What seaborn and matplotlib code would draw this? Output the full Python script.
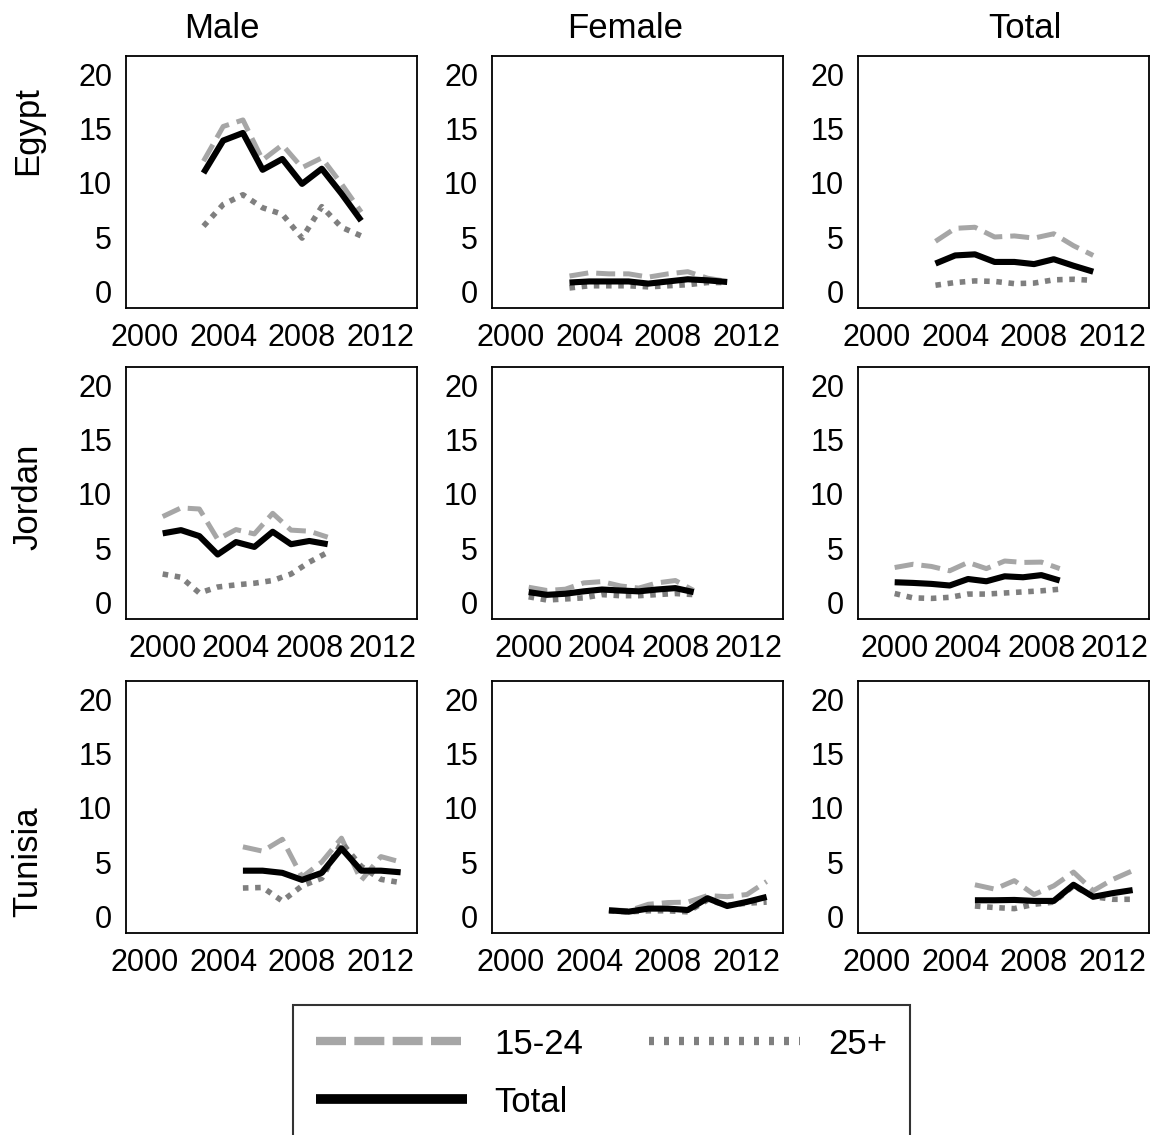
import numpy as np
import pandas as pd
import matplotlib
matplotlib.use("Agg")
import matplotlib.pyplot as plt
from matplotlib.lines import Line2D
import seaborn as sns

# ---- data: unemployment-type rates by country, sex and age group ----
egypt_years = [2003, 2004, 2005, 2006, 2007, 2008, 2009, 2010, 2011]
jordan_years = [2000, 2001, 2002, 2003, 2004, 2005, 2006, 2007, 2008, 2009]
tunisia_years = [2005, 2006, 2007, 2008, 2009, 2010, 2011, 2012, 2013]

egypt_male_1524 = [12.0, 15.2, 15.8, 12.1, 13.5, 11.4, 12.3, 9.9, 7.3]
egypt_male_25p = [6.0, 8.0, 8.9, 7.7, 7.1, 4.9, 7.8, 5.9, 5.1]
egypt_male_total = [10.9, 13.9, 14.6, 11.2, 12.2, 9.9, 11.3, 9.0, 6.5]

egypt_female_1524 = [1.4, 1.7, 1.6, 1.6, 1.3, 1.6, 1.8, 1.2, 0.9]
egypt_female_25p = [0.3, 0.5, 0.5, 0.5, 0.4, 0.5, 0.6, 0.8, 0.8]
egypt_female_total = [0.8, 0.9, 0.9, 0.9, 0.7, 0.9, 1.1, 1.0, 0.85]

egypt_total_1524 = [4.6, 5.8, 5.9, 5.0, 5.1, 4.9, 5.3, 4.2, 3.3]
egypt_total_25p = [0.55, 0.8, 0.95, 0.9, 0.7, 0.75, 1.05, 1.1, 1.0]
egypt_total_total = [2.55, 3.3, 3.4, 2.7, 2.7, 2.5, 2.95, 2.35, 1.8]

jordan_male_1524 = [7.9, 8.7, 8.6, 5.8, 6.7, 6.3, 8.2, 6.65, 6.55, 6.0]
jordan_male_25p = [2.6, 2.3, 0.85, 1.4, 1.6, 1.75, 2.0, 2.6, 3.7, 4.6]
jordan_male_total = [6.35, 6.65, 6.1, 4.4, 5.55, 5.1, 6.5, 5.35, 5.65, 5.35]

jordan_female_1524 = [1.38, 1.08, 1.2, 1.78, 1.9, 1.5, 1.3, 1.78, 2.0, 1.08]
jordan_female_25p = [0.5, 0.2, 0.3, 0.4, 0.7, 0.6, 0.6, 0.7, 0.8, 0.7]
jordan_female_total = [0.93, 0.68, 0.78, 1.0, 1.17, 1.08, 1.0, 1.17, 1.3, 0.93]

jordan_total_1524 = [3.2, 3.5, 3.3, 2.9, 3.67, 3.1, 3.8, 3.67, 3.7, 3.1]
jordan_total_25p = [0.8, 0.4, 0.35, 0.45, 0.75, 0.75, 0.85, 0.95, 1.05, 1.2]
jordan_total_total = [1.84, 1.78, 1.69, 1.54, 2.14, 1.93, 2.39, 2.3, 2.5, 2.0]

tunisia_male_1524 = [6.4, 6.0, 7.1, 3.6, 5.0, 7.2, 3.3, 5.5, 5.0]
tunisia_male_25p = [2.6, 2.65, 1.4, 2.8, 3.5, 6.8, 4.6, 3.4, 3.1]
tunisia_male_total = [4.2, 4.2, 4.0, 3.35, 4.0, 6.25, 4.2, 4.2, 4.05]

tunisia_female_1524 = [0.6, 0.5, 1.1, 1.26, 1.3, 1.9, 1.8, 2.0, 3.2]
tunisia_female_25p = [0.5, 0.4, 0.5, 0.5, 0.4, 1.5, 1.0, 1.2, 1.3]
tunisia_female_total = [0.54, 0.42, 0.7, 0.7, 0.57, 1.66, 0.94, 1.32, 1.78]

tunisia_total_1524 = [2.9, 2.5, 3.28, 2.0, 2.8, 4.07, 2.35, 3.4, 4.2]
tunisia_total_25p = [0.94, 0.8, 0.7, 1.1, 1.3, 2.8, 1.8, 1.56, 1.56]
tunisia_total_total = [1.47, 1.47, 1.5, 1.41, 1.41, 2.9, 1.79, 2.13, 2.41]

countries = ["Egypt", "Jordan", "Tunisia"]
sexes = ["Male", "Female", "Total"]
groups = ["15-24", "25+", "Total"]
xticks = [2000, 2004, 2008, 2012]
yticks = [0, 5, 10, 15, 20]

series = {
    ("Egypt", "Male"): (egypt_years, egypt_male_1524, egypt_male_25p, egypt_male_total),
    ("Egypt", "Female"): (egypt_years, egypt_female_1524, egypt_female_25p, egypt_female_total),
    ("Egypt", "Total"): (egypt_years, egypt_total_1524, egypt_total_25p, egypt_total_total),
    ("Jordan", "Male"): (jordan_years, jordan_male_1524, jordan_male_25p, jordan_male_total),
    ("Jordan", "Female"): (jordan_years, jordan_female_1524, jordan_female_25p, jordan_female_total),
    ("Jordan", "Total"): (jordan_years, jordan_total_1524, jordan_total_25p, jordan_total_total),
    ("Tunisia", "Male"): (tunisia_years, tunisia_male_1524, tunisia_male_25p, tunisia_male_total),
    ("Tunisia", "Female"): (tunisia_years, tunisia_female_1524, tunisia_female_25p, tunisia_female_total),
    ("Tunisia", "Total"): (tunisia_years, tunisia_total_1524, tunisia_total_25p, tunisia_total_total),
}

rows = []
for (country, sex), (yrs, a, b, t) in series.items():
    for g, vals in zip(groups, (a, b, t)):
        for y, v in zip(yrs, vals):
            rows.append({"country": country, "sex": sex, "group": g, "year": y, "rate": v})
df = pd.DataFrame(rows)

# ---- styling ----
sns.set_style("white")
plt.rcParams["font.family"] = ["Liberation Sans", "DejaVu Sans"]
plt.rcParams["text.color"] = "black"
plt.rcParams["axes.labelcolor"] = "black"
plt.rcParams["xtick.color"] = "black"
plt.rcParams["ytick.color"] = "black"
plt.rcParams["lines.dash_capstyle"] = "butt"
plt.rcParams["lines.solid_capstyle"] = "butt"

palette = {"15-24": "#a6a6a6", "25+": "#7f7f7f", "Total": "#000000"}
dash_map = {"15-24": (3.8, 1.6), "25+": (1.0, 1.2), "Total": ""}
widths = {"15-24": 3.6, "25+": 4.0, "Total": 4.4}

W, H = 1154, 1135
fig = plt.figure(figsize=(W / 100, H / 100), dpi=100)

col_left = [126, 492, 858]
row_top = [56, 367, 681]
panel_w, panel_h = 291, 252
row_xlim = [(1999.07, 2013.83), (1998.0, 2013.87), (1999.07, 2013.83)]

for r, country in enumerate(countries):
    for c, sex in enumerate(sexes):
        ax = fig.add_axes([col_left[c] / W, 1 - (row_top[r] + panel_h) / H,
                           panel_w / W, panel_h / H])
        sub = df[(df.country == country) & (df.sex == sex)]
        for g in groups:
            sns.lineplot(data=sub[sub.group == g], x="year", y="rate",
                         color=palette[g], dashes=False, lw=widths[g],
                         ax=ax, legend=False)
            line = ax.get_lines()[-1]
            if dash_map[g]:
                line.set_dashes(dash_map[g])
        ax.set_xlim(*row_xlim[r])
        ax.set_ylim(-1.55, 21.7)
        ax.set_xticks(xticks)
        ax.set_yticks(yticks)
        ax.set_xlabel("")
        ax.set_ylabel("")
        ax.tick_params(axis="both", direction="out", length=7, width=1.2,
                       labelsize=22, color="black", labelcolor="black")
        ax.tick_params(axis="x", pad=4)
        ax.tick_params(axis="y", pad=3)
        for s in ax.spines.values():
            s.set_color("black")
            s.set_linewidth(1.3)

# column and row headings
for x, t in zip([222, 625, 1025], sexes):
    fig.text(x / W, 1 - 28 / H, t, ha="center", va="center", fontsize=25, color="black")
for y, t in zip([131, 497, 862], countries):
    fig.text(28 / W, 1 - y / H, t, ha="center", va="center", rotation=90,
             fontsize=25, color="black")

# shared legend
handles = [
    Line2D([], [], color=palette["15-24"], lw=6.0, dashes=(3.6, 1.0)),
    Line2D([], [], color=palette["Total"], lw=7.0),
    Line2D([], [], color=palette["25+"], lw=6.0, dashes=(0.6, 1.2)),
]
labels = ["15-24", "Total", "25+"]
leg = fig.legend(handles, labels, ncol=2, loc="upper left",
                 bbox_to_anchor=(293 / W, 1 - 1005 / H), frameon=True,
                 fancybox=False, edgecolor="black", fontsize=25,
                 handlelength=4.35, handletextpad=0.8, columnspacing=1.9,
                 borderpad=0.65, labelspacing=0.72, borderaxespad=0)
leg.get_frame().set_linewidth(1.5)
for txt in leg.get_texts():
    txt.set_color("black")

fig.savefig("out.png", dpi=100, facecolor="white")
